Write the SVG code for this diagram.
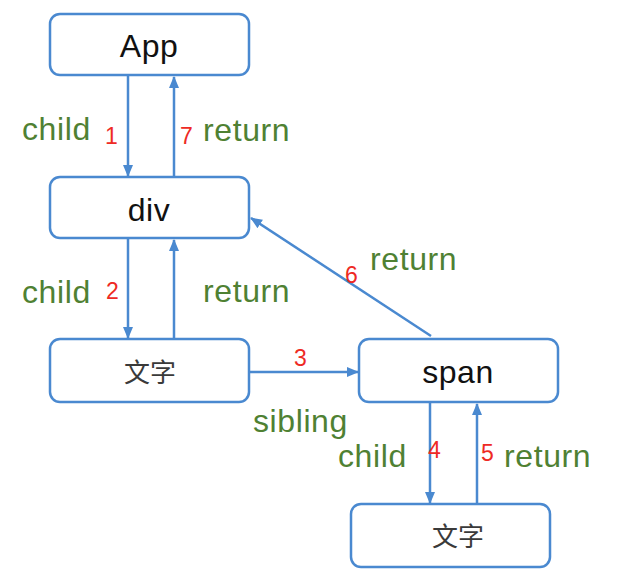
<svg xmlns="http://www.w3.org/2000/svg" width="621" height="574" viewBox="0 0 621 574">
<style>
.box{fill:#fff;stroke:#4a89d0;stroke-width:2.5}
.name{font-family:"Liberation Sans",Arial,sans-serif;font-size:32px;fill:#111;text-anchor:middle;letter-spacing:0.5px}
.cjk{font-family:"Noto Sans CJK SC",sans-serif;font-size:26px;fill:#3a3a3a;text-anchor:middle}
.lbl{font-family:"Liberation Sans",Arial,sans-serif;font-size:32px;fill:#4f8133;letter-spacing:0.6px}
.num{font-family:"Liberation Sans",Arial,sans-serif;font-size:23px;fill:#ee2a24}
.edge{stroke:#4a89d0;stroke-width:2.5;fill:none;marker-end:url(#ah)}
</style>
<defs>
<marker id="ah" markerUnits="userSpaceOnUse" markerWidth="12" markerHeight="12" viewBox="0 0 12 12" refX="11" refY="6" orient="auto">
<path d="M0,1 L12,6 L0,11 Z" fill="#4a89d0"/>
</marker>
</defs>
<rect width="621" height="574" fill="#fff"/>
<g id="connectors">
<line class="edge" x1="128" y1="76" x2="128" y2="176"/>
<line class="edge" x1="174" y1="177" x2="174" y2="77"/>
<line class="edge" x1="128" y1="239" x2="128" y2="338"/>
<line class="edge" x1="174" y1="339" x2="174" y2="240"/>
<line class="edge" x1="250" y1="372" x2="358" y2="372"/>
<line class="edge" x1="431" y1="336" x2="251" y2="218"/>
<line class="edge" x1="430" y1="403" x2="430" y2="503"/>
<line class="edge" x1="477" y1="504" x2="477" y2="404"/>
<text class="lbl" x="22" y="140">child</text>
<text class="num" x="105" y="144">1</text>
<text class="num" x="180" y="144">7</text>
<text class="lbl" x="203" y="141">return</text>
<text class="lbl" x="22" y="303">child</text>
<text class="num" x="106" y="299">2</text>
<text class="lbl" x="203" y="302">return</text>
<text class="num" x="294" y="366">3</text>
<text class="lbl" x="253" y="432">sibling</text>
<text class="num" x="345" y="283">6</text>
<text class="lbl" x="370" y="270">return</text>
<text class="lbl" x="338" y="467">child</text>
<text class="num" x="428" y="458">4</text>
<text class="num" x="481" y="461">5</text>
<text class="lbl" x="504" y="467">return</text>
</g>
<g id="app">
<rect class="box" x="50" y="14" width="199" height="61" rx="10"/>
<text class="name" x="149" y="57">App</text>
</g>
<g id="div">
<rect class="box" x="50" y="177" width="199" height="61" rx="10"/>
<text class="name" x="149" y="221">div</text>
</g>
<g id="text1">
<rect class="box" x="50" y="339" width="199" height="63" rx="10"/>
<text class="cjk" x="150" y="382">文字</text>
</g>
<g id="span">
<rect class="box" x="359" y="339" width="199" height="63" rx="10"/>
<text class="name" x="458" y="383">span</text>
</g>
<g id="text2">
<rect class="box" x="351" y="504" width="199" height="63" rx="10"/>
<text class="cjk" x="458" y="546">文字</text>
</g>
</svg>
